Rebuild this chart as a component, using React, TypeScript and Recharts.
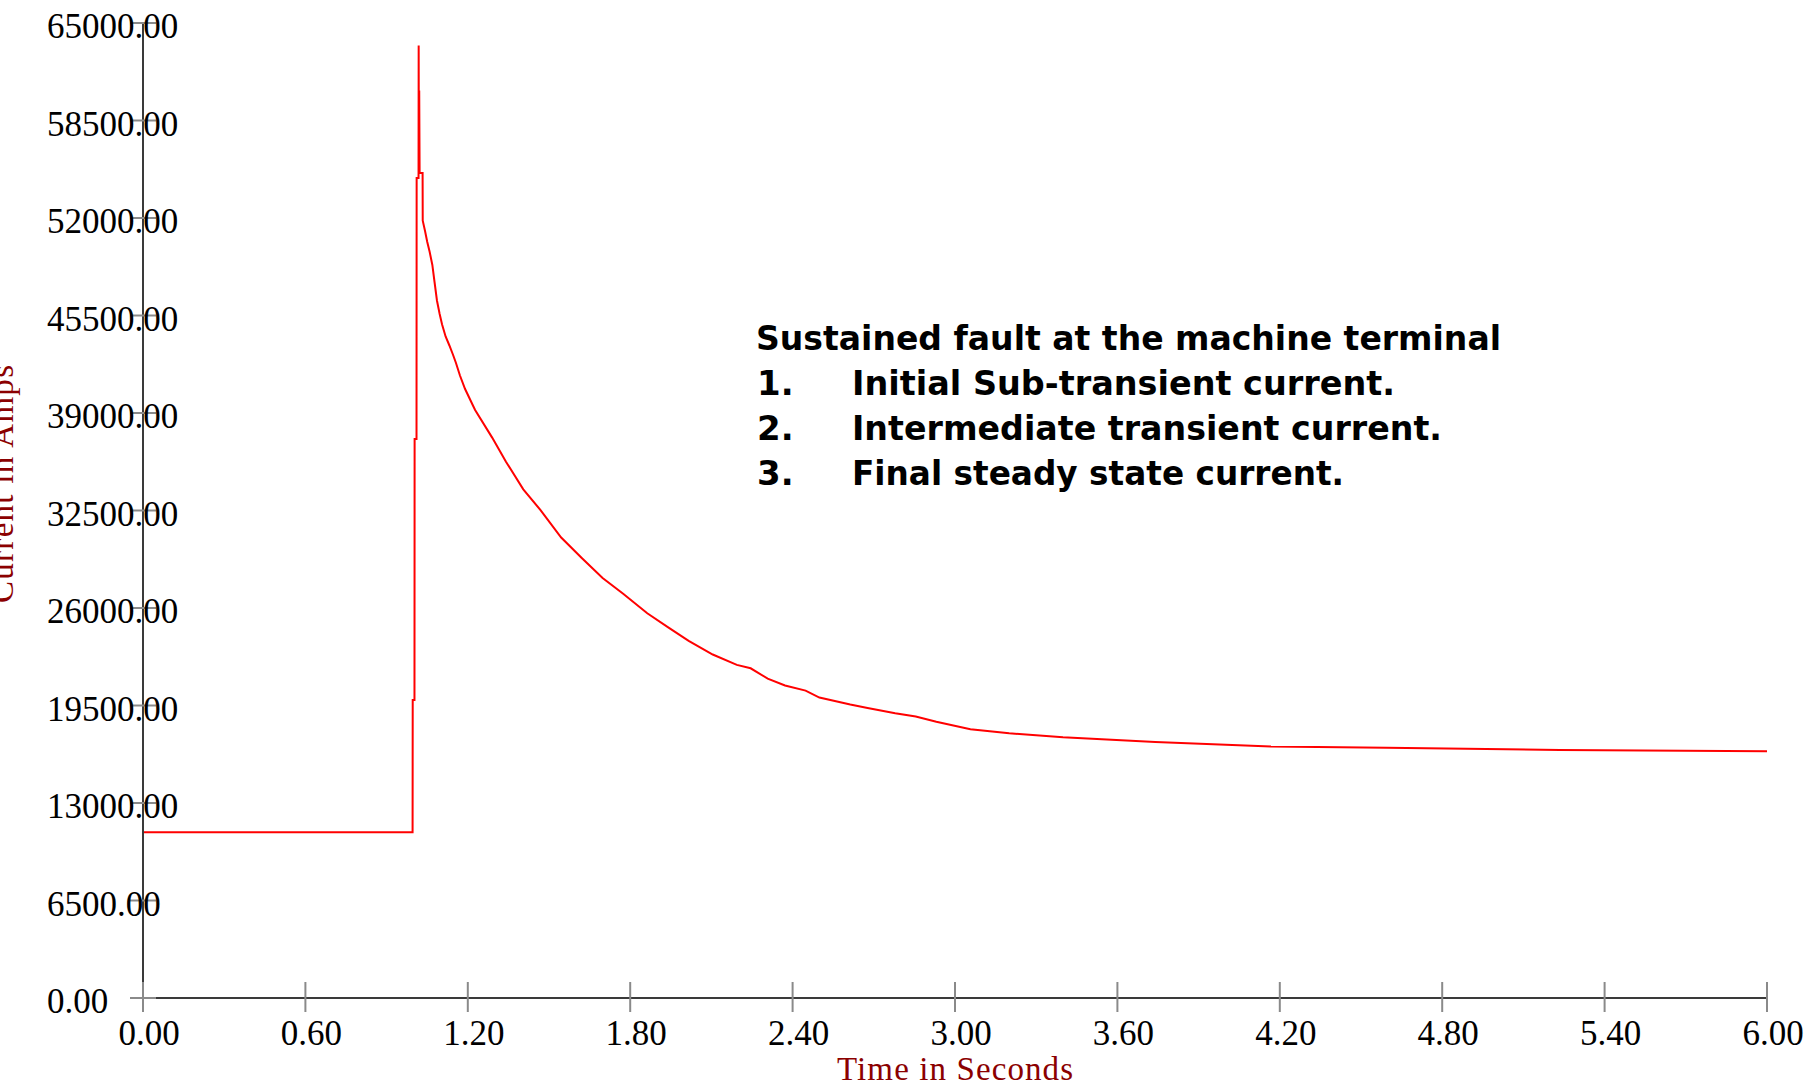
import React from "react";
import { LineChart, Line, XAxis, YAxis } from "recharts";

// time in seconds
const timeS: number[] = [
  0, 0.996, 0.9965, 1.003, 1.0035, 1.0105, 1.011, 1.018, 1.0185, 1.0192,
  1.0205, 1.022, 1.033, 1.0335, 1.042, 1.05, 1.059, 1.069, 1.077, 1.086,
  1.096, 1.105, 1.118, 1.132, 1.145, 1.156, 1.171, 1.19, 1.219, 1.227, 1.29,
  1.341, 1.405, 1.468, 1.545, 1.621, 1.698, 1.774, 1.863, 1.939, 2.016,
  2.105, 2.194, 2.245, 2.308, 2.372, 2.448, 2.499, 2.613, 2.677, 2.779,
  2.855, 2.931, 3.057, 3.2, 3.399, 3.74, 4.167, 4.594, 5.235, 6.0,
];

// current in amps
const currentA: number[] = [
  11050, 11050, 19870, 19870, 37270, 37270, 54670, 54670, 63500, 55000,
  60500, 55000, 55000, 51820, 51130, 50420, 49750, 48870, 47750, 46500,
  45600, 44900, 44100, 43500, 42900, 42350, 41500, 40600, 39500, 39200, 37360,
  35750, 33910, 32540, 30700, 29330, 28000, 26950, 25650, 24730, 23810,
  22900, 22210, 21980, 21290, 20830, 20490, 20030, 19570, 19340, 18990,
  18770, 18420, 17920, 17650, 17380, 17070, 16760, 16680, 16530, 16450,
];

const xTicks: number[] = [0, 0.6, 1.2, 1.8, 2.4, 3.0, 3.6, 4.2, 4.8, 5.4, 6.0];
const yTicks: number[] = [0, 6500, 13000, 19500, 26000, 32500, 39000, 45500, 52000, 58500, 65000];

const xTitle = "Time in Seconds";
const yTitle = "Current in Amps";
const noteTitle = "Sustained fault at the machine terminal";
const noteNums = ["1.", "2.", "3."];
const noteItems = [
  "Initial Sub-transient current.",
  "Intermediate transient current.",
  "Final steady state current.",
];

const data = timeS.map((t, i) => ({ t, amps: currentA[i] }));

const SERIF = "'Liberation Serif', 'Times New Roman', serif";
const SANS = "'DejaVu Sans', Verdana, sans-serif";

const YTick = (props: any) => {
  const { x, y, payload } = props;
  return (
    <g>
      <line x1={x - 13} x2={x + 13} y1={y} y2={y} stroke="#8a8a8a" strokeWidth={2} />
      <text x={x - 96} y={y + 15} fontFamily={SERIF} fontSize={35} fill="#000" textAnchor="start">
        {Number(payload.value).toFixed(2)}
      </text>
    </g>
  );
};

const XTick = (props: any) => {
  const { x, y, payload } = props;
  return (
    <g>
      <line x1={x} x2={x} y1={y - 16} y2={y + 14} stroke="#8a8a8a" strokeWidth={2} />
      <text x={x + 6} y={y + 47} fontFamily={SERIF} fontSize={35} fill="#000" textAnchor="middle">
        {Number(payload.value).toFixed(2)}
      </text>
    </g>
  );
};

export default function App() {
  return (
    <div style={{ position: "absolute", left: 0, top: 0, width: 1812, height: 1087, background: "#fff" }}>
      <LineChart width={1812} height={1087} data={data} margin={{ top: 23, right: 45, left: 0, bottom: 0 }}>
        <XAxis
          dataKey="t"
          type="number"
          domain={[0, 6]}
          ticks={xTicks}
          interval={0}
          height={89}
          tickSize={0}
          tickMargin={0}
          tickLine={false}
          axisLine={{ stroke: "#3a3a3a", strokeWidth: 2 }}
          tick={<XTick />}
        />
        <YAxis
          type="number"
          domain={[0, 65000]}
          ticks={yTicks}
          interval={0}
          width={143}
          tickSize={0}
          tickMargin={0}
          tickLine={false}
          axisLine={{ stroke: "#3a3a3a", strokeWidth: 2 }}
          tick={<YTick />}
        />
        <Line
          type="linear"
          dataKey="amps"
          stroke="#ff0000"
          strokeWidth={2}
          dot={false}
          activeDot={false}
          isAnimationActive={false}
        />
      </LineChart>
      <svg
        width={1812}
        height={1087}
        style={{ position: "absolute", left: 0, top: 0, pointerEvents: "none" }}
      >
        <text x={955} y={1080} fontFamily={SERIF} fontSize={33} fill="#8b0000" textAnchor="middle" textLength={236} lengthAdjust="spacing">
          {xTitle}
        </text>
        <text
          x={13}
          y={484}
          fontFamily={SERIF}
          fontSize={33}
          fill="#8b0000"
          textAnchor="middle"
          textLength={238}
          lengthAdjust="spacing"
          transform="rotate(-90, 13, 484)"
        >
          {yTitle}
        </text>
        <text x={756} y={350} fontFamily={SANS} fontWeight="bold" fontSize={34} fill="#000" textLength={745} lengthAdjust="spacingAndGlyphs">
          {noteTitle}
        </text>
        {noteItems.map((s, i) => (
          <g key={i}>
            <text x={757} y={395 + i * 45} fontFamily={SANS} fontWeight="bold" fontSize={34} fill="#000">
              {noteNums[i]}
            </text>
            <text
              x={852}
              y={395 + i * 45}
              fontFamily={SANS}
              fontWeight="bold"
              fontSize={34}
              fill="#000"
              textLength={[543, 590, 492][i]}
              lengthAdjust="spacingAndGlyphs"
            >
              {s}
            </text>
          </g>
        ))}
      </svg>
    </div>
  );
}
